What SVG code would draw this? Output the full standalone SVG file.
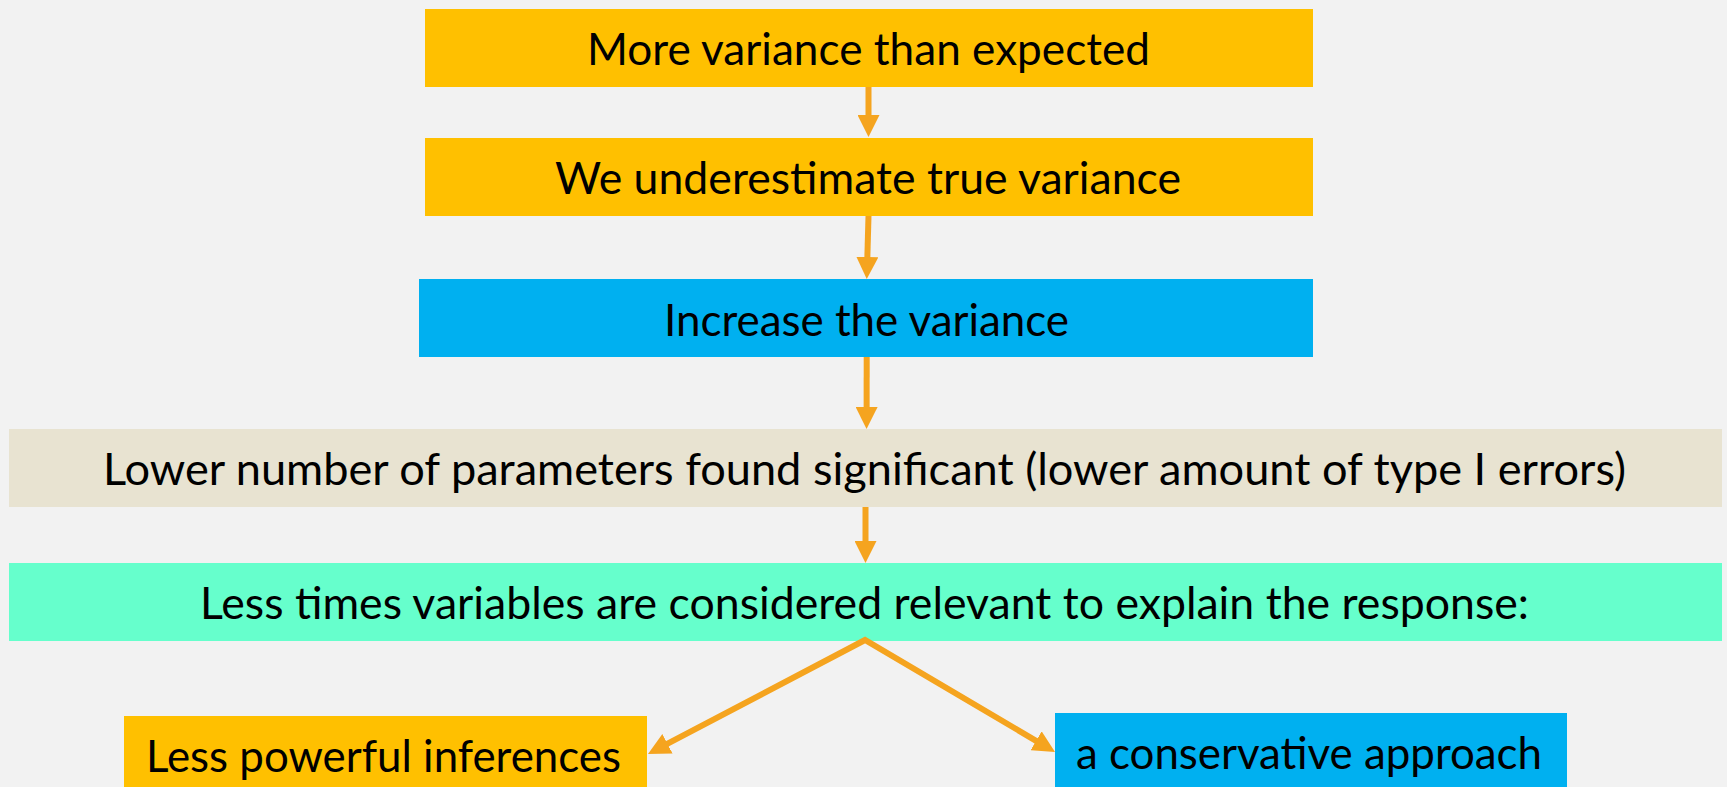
<svg xmlns="http://www.w3.org/2000/svg" width="1727" height="787" viewBox="0 0 1727 787">
<style>
.t{font-family:"Gill Sans","Lato","Liberation Sans",sans-serif;font-size:45px;fill:#000;text-anchor:middle}
.c{fill:none;stroke:#F5A41F;stroke-width:6;stroke-linejoin:miter}
</style>
<defs>
<marker id="ah" viewBox="0 0 22 22" refX="2" refY="11" markerWidth="22" markerHeight="22" markerUnits="userSpaceOnUse" orient="auto-start-reverse">
<path d="M0,0 L22,11 L0,22 z" fill="#F5A41F"/>
</marker>
</defs>
<rect width="1727" height="787" fill="#F2F2F2"/>
<g id="n1"><rect x="425" y="9" width="888" height="78" fill="#FFC000"/><text class="t" x="868.5" y="65" textLength="563" lengthAdjust="spacingAndGlyphs">More variance than expected</text></g>
<g id="n2"><rect x="425" y="138" width="888" height="78" fill="#FFC000"/><text class="t" x="868" y="194" textLength="626" lengthAdjust="spacingAndGlyphs">We underestimate true variance</text></g>
<g id="n3"><rect x="419" y="279" width="894" height="78" fill="#00B0F0"/><text class="t" x="866.5" y="336" textLength="405" lengthAdjust="spacingAndGlyphs">Increase the variance</text></g>
<g id="n4"><rect x="9" y="429" width="1713" height="78" fill="#E8E3D1"/><text class="t" x="864.5" y="485" textLength="1523" lengthAdjust="spacingAndGlyphs">Lower number of parameters found significant (lower amount of type I errors)</text></g>
<g id="n5"><rect x="9" y="563" width="1713" height="78" fill="#66FFCC"/><text class="t" x="864.5" y="619" textLength="1329" lengthAdjust="spacingAndGlyphs">Less times variables are considered relevant to explain the response:</text></g>
<g id="n6"><rect x="124" y="716" width="523" height="75" fill="#FFC000"/><text class="t" x="383.5" y="772" textLength="475" lengthAdjust="spacingAndGlyphs">Less powerful inferences</text></g>
<g id="n7"><rect x="1055" y="713" width="512" height="78" fill="#00B0F0"/><text class="t" x="1309" y="769" textLength="466" lengthAdjust="spacingAndGlyphs">a conservative approach</text></g>
<g id="connectors">
<path class="c" d="M868.5,87 L868.5,117" marker-end="url(#ah)"/>
<path class="c" d="M868.5,216 L867.3,259" marker-end="url(#ah)"/>
<path class="c" d="M866.7,357 L866.6,409" marker-end="url(#ah)"/>
<path class="c" d="M865.5,507 L865.5,543" marker-end="url(#ah)"/>
<path class="c" d="M665.7,744.7 L865,640 L1037.8,741.8" marker-start="url(#ah)" marker-end="url(#ah)"/>
</g>
</svg>
